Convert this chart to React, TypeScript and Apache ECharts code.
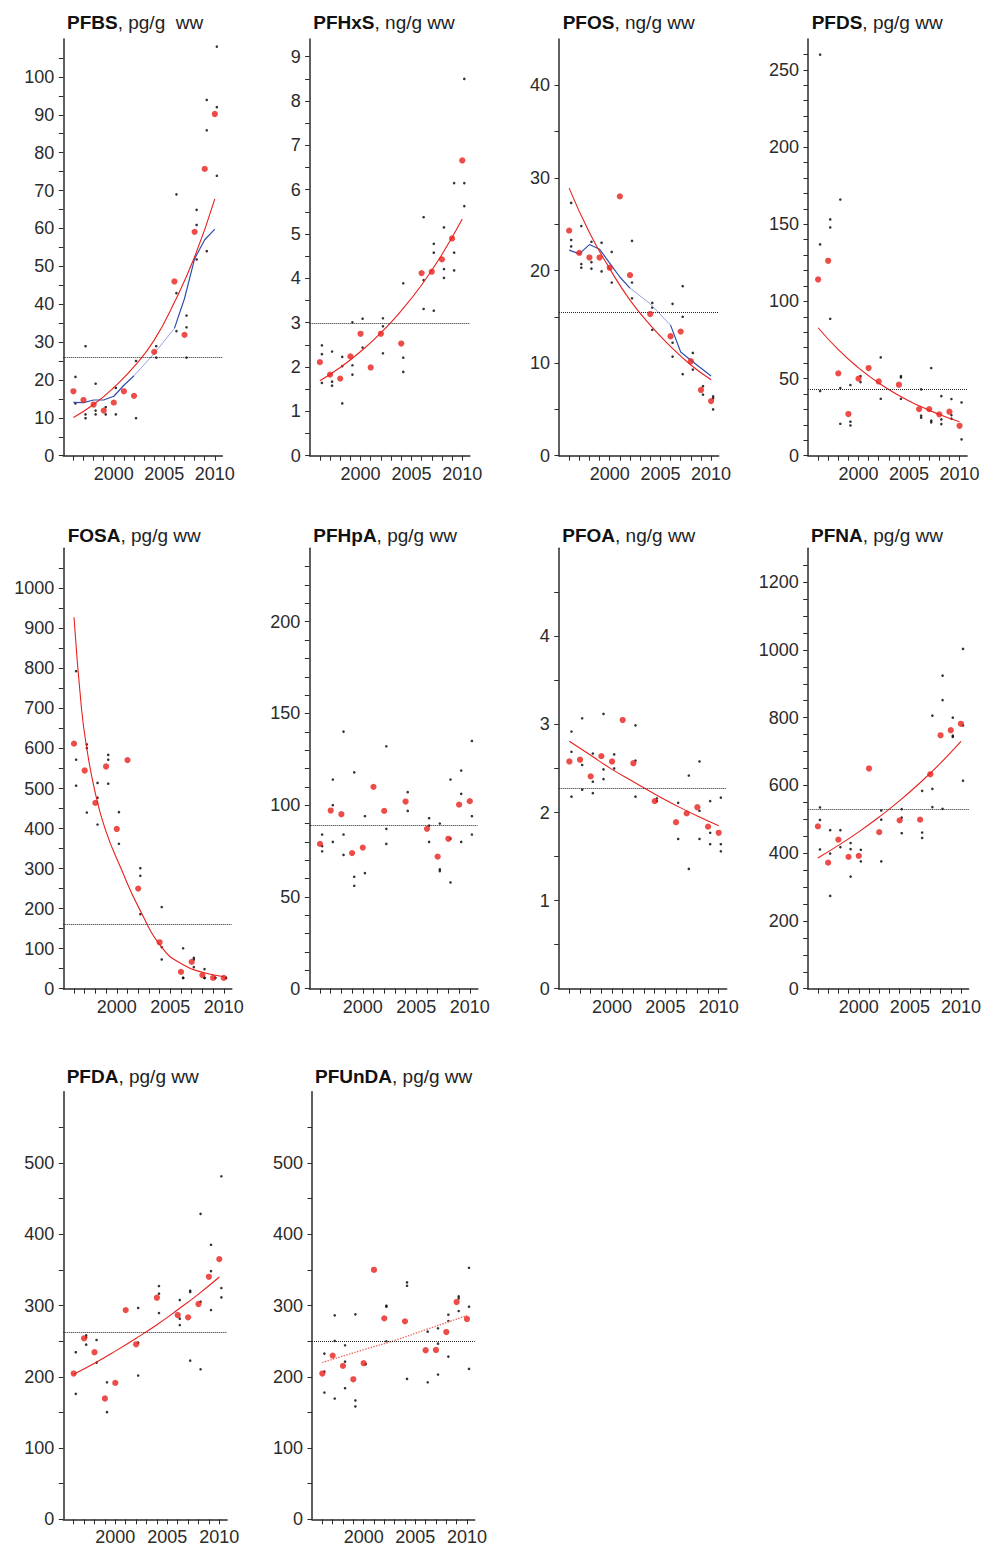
import React, { useEffect, useRef } from "react";
import * as echarts from "echarts";

// ---------- shared ----------
const YEARS = [1996, 1997, 1998, 1999, 2000, 2001, 2002, 2004, 2006, 2007, 2008, 2009, 2010];
const X_TICKS = [1996, 1997, 1998, 1999, 2000, 2001, 2002, 2003, 2004, 2005, 2006, 2007, 2008, 2009, 2010];
const X_LABELS = [2000, 2005, 2010];

// ---------- PFBS ----------
const pfbsMedian = [17.0, 14.7, 13.5, 11.9, 14.0, 17.0, 15.8, 27.4, 46.0, 31.9, 59.1, 75.7, 90.2];
const pfbsSamples = [[20.8, 13.8], [28.9, 10.9, 9.9], [19.0, 11.9, 10.9], [12.8, 10.9], [17.9, 10.9], [], [25.0, 9.9], [28.9, 25.9], [69.0, 42.9, 32.9], [37.0, 33.9, 25.9], [64.9, 60.9, 51.8], [93.9, 85.9, 54.0], [108, 92.0, 73.9]];
const pfbsTrend = [[1996, 10.1], [1998, 13.5], [2000, 18.0], [2002, 23.5], [2004, 30.5], [2006, 40.5], [2008, 52.5], [2010, 67.8]];
const pfbsSmooth = [[1996, 14.1], [1997, 14.0], [1998, 14.7], [1999, 14.7], [2000, 15.7], [2001, 18.6], [2002, 21.1], [2004, 27.0], [2006, 33.6], [2007, 41.5], [2008, 52.0], [2009, 57.0], [2010, 59.8]];
const pfbsMean = 26;
const pfbsYLabels = [0, 10, 20, 30, 40, 50, 60, 70, 80, 90, 100];

// ---------- PFHxS ----------
const pfhxsMedian = [2.11, 1.83, 1.74, 2.24, 2.75, 1.99, 2.75, 2.53, 4.12, 4.15, 4.43, 4.90, 6.66];
const pfhxsSamples = [[2.49, 2.29, 1.64], [2.35, 1.67, 1.58], [2.23, 2.02, 1.18], [3.01, 2.04, 1.83], [3.09, 2.44], [], [3.10, 2.92, 2.31], [3.89, 2.21, 1.89], [5.38, 3.96, 3.31], [4.78, 4.58, 3.27], [5.15, 4.21, 4.01], [6.15, 4.58, 4.18], [8.50, 6.15, 5.63]];
const pfhxsTrend = [[1996, 1.69], [1998, 1.99], [2000, 2.35], [2002, 2.77], [2004, 3.27], [2006, 3.85], [2008, 4.54], [2010, 5.34]];
const pfhxsMean = 2.98;
const pfhxsYLabels = [0, 1, 2, 3, 4, 5, 6, 7, 8, 9];

// ---------- PFOS ----------
const pfosMedian = [24.3, 21.9, 21.4, 21.4, 20.3, 28.0, 19.5, 15.3, 12.9, 13.4, 10.2, 7.1, 5.9];
const pfosSamples = [[27.3, 23.3, 22.6], [24.8, 20.7, 20.3], [23.1, 20.9, 20.2], [23.0, 19.9], [22.0, 18.7], [], [23.2, 18.7, 17.0], [16.5, 16.0, 13.6], [16.4, 12.2, 10.7], [18.3, 15.0, 8.8], [11.1, 9.3], [7.5, 6.6], [6.4, 6.2, 5.0]];
const pfosTrend = [[1996, 28.9], [1998, 24.1], [2000, 20.2], [2002, 16.8], [2004, 14.1], [2006, 11.8], [2008, 9.8], [2010, 8.2]];
const pfosSmooth = [[1996, 22.2], [1997, 21.8], [1998, 22.8], [1999, 22.3], [2000, 20.8], [2001, 19.3], [2002, 18.1], [2004, 16.4], [2006, 14.1], [2007, 11.2], [2008, 10.3], [2010, 8.6]];
const pfosMean = 15.5;
const pfosYLabels = [0, 10, 20, 30, 40];

// ---------- PFDS ----------
const pfdsMedian = [114.2, 126.3, 53.3, 27.0, 49.9, 56.8, 48.1, 46.0, 30.2, 30.2, 26.8, 28.5, 19.4];
const pfdsSamples = [[259.9, 136.9, 41.9], [153.1, 147.9, 88.7], [166.0, 43.8, 20.7], [45.8, 22.0, 19.6], [51.6, 47.7], [], [63.7, 36.9], [51.6, 50.7, 36.9], [43.0, 25.9, 24.6], [56.8, 22.7, 21.6], [38.6, 23.5, 20.5], [36.7, 26.3, 24.0], [34.5, 10.6]];
const pfdsTrend = [[1996, 82.9], [1998, 68.7], [2000, 56.9], [2002, 47.1], [2004, 39.0], [2006, 32.3], [2008, 26.7], [2010, 22.0]];
const pfdsMean = 43.2;
const pfdsYLabels = [0, 50, 100, 150, 200, 250];

// ---------- FOSA ----------
const fosaMedian = [612, 545, 464, 555, 399, 571, 250, 116, 42, 67, 34, 27, 27];
const fosaSamples = [[793, 572, 507], [610, 601, 440], [514, 477, 410], [584, 572, 512], [441, 362], [], [301, 282, 186], [204, 104, 73], [101, 27, 27], [77, 73, 54], [49, 27, 27], [27, 27], [27, 27]];
const fosaTrend = [[1996, 928], [1996.7, 700], [1997.2, 600], [1997.9, 500], [1998.9, 400], [2000.4, 300], [2002.1, 200], [2004.3, 100], [2006.2, 60], [2008, 41], [2010, 30]];
const fosaMean = 160;
const fosaYLabels = [0, 100, 200, 300, 400, 500, 600, 700, 800, 900, 1000];

// ---------- PFHpA ----------
const pfhpaMedian = [78.9, 97.1, 95.1, 73.9, 76.9, 110.0, 96.9, 102.0, 87.1, 72.0, 81.7, 100.3, 102.2];
const pfhpaSamples = [[84.0, 77.7, 74.9], [114.0, 100.0, 80.0], [140.1, 84.0, 72.9], [117.9, 61.0, 56.1], [94.0, 63.0], [], [132.1, 87.1, 78.9], [107.1, 96.9], [92.9, 88.9, 80.0], [90.0, 65.0, 64.1], [114.0, 81.8, 57.9], [118.9, 106.2, 80.0], [135.0, 94.0, 84.0]];
const pfhpaMean = 89.3;
const pfhpaYLabels = [0, 50, 100, 150, 200];

// ---------- PFOA ----------
const pfoaMedian = [2.58, 2.60, 2.41, 2.64, 2.58, 3.05, 2.56, 2.13, 1.89, 1.99, 2.06, 1.84, 1.77];
const pfoaSamples = [[2.92, 2.69, 2.18], [3.07, 2.54, 2.26], [2.67, 2.35, 2.22], [3.12, 2.49, 2.38], [2.66, 2.50], [], [2.99, 2.59, 2.18], [2.16, 2.13], [2.11, 1.70], [2.42, 1.36], [2.58, 2.02, 1.70], [2.13, 1.77, 1.64], [2.17, 1.64, 1.56]];
const pfoaTrend = [[1996, 2.81], [1998, 2.65], [2000, 2.49], [2002, 2.35], [2004, 2.21], [2006, 2.08], [2008, 1.96], [2010, 1.85]];
const pfoaMean = 2.28;
const pfoaYLabels = [0, 1, 2, 3, 4];

// ---------- PFNA ----------
const pfnaMedian = [479, 372, 440, 389, 392, 650, 462, 497, 499, 633, 748, 763, 782];
const pfnaSamples = [[535, 498, 411], [468, 399, 274], [468, 418], [430, 412, 331], [410, 376], [], [526, 499, 376], [530, 505, 459], [584, 461, 445], [806, 590, 536], [924, 852, 531], [800, 747, 743], [1003, 777, 614]];
const pfnaTrend = [[1996, 386], [1998, 423], [2000, 463], [2002, 507], [2004, 555], [2006, 608], [2008, 666], [2010, 730]];
const pfnaMean = 529;
const pfnaYLabels = [0, 200, 400, 600, 800, 1000, 1200];

// ---------- PFDA ----------
const pfdaMedian = [204.5, 254.0, 234.4, 169.5, 191.4, 293.6, 245.6, 310.9, 286.6, 283.4, 302.1, 340.3, 365.1];
const pfdaSamples = [[234.4, 176.0], [258.2, 255.4, 245.1], [251.6, 219.9], [192.3, 150.3], [], [], [296.5, 247.9, 201.7], [327.3, 316.5, 289.4], [307.7, 281.5, 272.6], [320.7, 318.9, 222.7], [428.6, 305.3, 210.5], [385.2, 348.3, 293.6], [481.3, 324.5, 311.4]];
const pfdaTrend = [[1996, 203.5], [1998, 219], [2000, 236], [2002, 254], [2004, 273], [2006, 294], [2008, 316], [2010, 340]];
const pfdaMean = 262;
const pfdaYLabels = [0, 100, 200, 300, 400, 500];

// ---------- PFUnDA ----------
const pfundaMedian = [204.5, 229.7, 215.2, 196.5, 219.0, 350.1, 282.0, 277.8, 237.2, 237.6, 262.8, 304.9, 281.0];
const pfundaSamples = [[232.5, 207.3, 177.9], [286.2, 250.2, 169.5], [244.2, 221.3, 183.9], [287.6, 166.7, 158.3], [217.6], [], [299.7, 298.3, 249.8], [332.4, 327.7, 197.0], [263.3, 192.3], [268.0, 246.5, 203.1], [287.1, 278.2, 228.3], [312.8, 310.0, 292.2], [352.9, 298.3, 211.0]];
const pfundaTrend = [[1996, 220], [2000, 238], [2003, 251], [2006, 266], [2010, 286]];
const pfundaMean = 250;
const pfundaYLabels = [0, 100, 200, 300, 400, 500];

// ---------- styling / layout ----------
const FONT = "'Liberation Sans', Arial, Helvetica, sans-serif";
const RED = "#e8201c";
const BLUE = "#2f4fb0";
const BLUE_LIGHT = "#8fa3dc";
const INK = "#2b2b2b";

type Panel = {
  name: string; unit: string;
  median: number[]; samples: number[][];
  trend?: number[][]; smooth?: number[][]; trendDotted?: boolean;
  mean: number; yLabels: number[]; yStep: number; yMax: number;
  rect: [number, number, number, number];
  title: [number, number];
};

const R1 = [39, 416.7];
const R2 = [548.3, 440.4];
const R3 = [1091.7, 427.6];

const PANELS: Panel[] = [
  { name: "PFBS", unit: "pg/g  ww", median: pfbsMedian, samples: pfbsSamples, trend: pfbsTrend, smooth: pfbsSmooth, mean: pfbsMean, yLabels: pfbsYLabels, yStep: 5, yMax: 110, rect: [63.3, R1[0], 159.1, R1[1]], title: [67, 11.5] },
  { name: "PFHxS", unit: "ng/g ww", median: pfhxsMedian, samples: pfhxsSamples, trend: pfhxsTrend, mean: pfhxsMean, yLabels: pfhxsYLabels, yStep: 0.5, yMax: 9.4, rect: [309.7, R1[0], 160.2, R1[1]], title: [313.3, 11.5] },
  { name: "PFOS", unit: "ng/g ww", median: pfosMedian, samples: pfosSamples, trend: pfosTrend, smooth: pfosSmooth, mean: pfosMean, yLabels: pfosYLabels, yStep: 5, yMax: 45, rect: [559, R1[0], 159.7, R1[1]], title: [562.7, 11.5] },
  { name: "PFDS", unit: "pg/g ww", median: pfdsMedian, samples: pfdsSamples, trend: pfdsTrend, mean: pfdsMean, yLabels: pfdsYLabels, yStep: 10, yMax: 270, rect: [808, R1[0], 159.1, R1[1]], title: [811.7, 11.5] },
  { name: "FOSA", unit: "pg/g ww", median: fosaMedian, samples: fosaSamples, trend: fosaTrend, mean: fosaMean, yLabels: fosaYLabels, yStep: 50, yMax: 1100, rect: [63.3, R2[0], 168.5, R2[1]], title: [67.7, 524] },
  { name: "PFHpA", unit: "pg/g ww", median: pfhpaMedian, samples: pfhpaSamples, mean: pfhpaMean, yLabels: pfhpaYLabels, yStep: 10, yMax: 240, rect: [309.3, R2[0], 168.5, R2[1]], title: [313.3, 524] },
  { name: "PFOA", unit: "ng/g ww", median: pfoaMedian, samples: pfoaSamples, trend: pfoaTrend, mean: pfoaMean, yLabels: pfoaYLabels, yStep: 0.5, yMax: 5, rect: [558.7, R2[0], 168, R2[1]], title: [562.3, 524] },
  { name: "PFNA", unit: "pg/g ww", median: pfnaMedian, samples: pfnaSamples, trend: pfnaTrend, mean: pfnaMean, yLabels: pfnaYLabels, yStep: 50, yMax: 1300, rect: [807.7, R2[0], 168, R2[1]], title: [811, 524] },
  { name: "PFDA", unit: "pg/g ww", median: pfdaMedian, samples: pfdaSamples, trend: pfdaTrend, mean: pfdaMean, yLabels: pfdaYLabels, yStep: 50, yMax: 600, rect: [63.3, R3[0], 163.8, R3[1]], title: [66.7, 1065] },
  { name: "PFUnDA", unit: "pg/g ww", median: pfundaMedian, samples: pfundaSamples, trend: pfundaTrend, trendDotted: true, mean: pfundaMean, yLabels: pfundaYLabels, yStep: 50, yMax: 600, rect: [312, R3[0], 162.7, R3[1]], title: [315, 1065] },
];

const X_MIN = 1995;
const X_MAX = 2010.75;
const SAMPLE_SHIFT = 0.2;
// the smoother is drawn lighter where it bridges the gap years
const LIGHT_FROM = 2002;
const LIGHT_TO = 2006;

function buildOption() {
  const grid: any[] = [];
  const xAxis: any[] = [];
  const yAxis: any[] = [];
  const series: any[] = [];
  const title: any[] = [];

  PANELS.forEach((p, i) => {
    const [left, top, width, height] = p.rect;
    grid.push({ left, top, width, height, containLabel: false });

    xAxis.push({
      type: "value", gridIndex: i, min: X_MIN, max: X_MAX, interval: 1,
      axisLine: { show: true, onZero: false, lineStyle: { color: INK, width: 1.5 } },
      axisTick: { show: true, length: 5, customValues: X_TICKS, lineStyle: { color: INK, width: 1 } },
      axisLabel: {
        customValues: X_LABELS, fontSize: 18, color: INK, fontFamily: FONT, margin: 9,
        formatter: (v: number) => (X_LABELS.indexOf(v) >= 0 ? String(v) : ""),
      },
      splitLine: { show: false },
    });

    const ticks: number[] = [];
    for (let k = 0; k * p.yStep < p.yMax - 1e-9; k++) ticks.push(Math.round(k * p.yStep * 1000) / 1000);
    yAxis.push({
      type: "value", gridIndex: i, min: 0, max: p.yMax, interval: p.yStep,
      axisLine: { show: true, onZero: false, lineStyle: { color: INK, width: 1.5 } },
      axisTick: { show: true, length: 4.5, customValues: ticks, lineStyle: { color: INK, width: 1 } },
      axisLabel: {
        customValues: p.yLabels, fontSize: 18, color: INK, fontFamily: FONT, margin: 9,
        formatter: (v: number) => (p.yLabels.some((l) => Math.abs(l - v) < 1e-6) ? String(v) : ""),
      },
      splitLine: { show: false },
    });

    title.push({
      text: `{b|${p.name}}{n|, ${p.unit}}`,
      left: p.title[0], top: p.title[1], padding: 0,
      textStyle: {
        rich: {
          b: { fontWeight: "bold", fontSize: 19, fontFamily: FONT, color: "#111", lineHeight: 22 },
          n: { fontWeight: "normal", fontSize: 19, fontFamily: FONT, color: "#222", lineHeight: 22 },
        },
      },
    });

    const samplePts: number[][] = [];
    p.samples.forEach((vals, j) => vals.forEach((v) => samplePts.push([YEARS[j] + SAMPLE_SHIFT, v])));
    series.push({
      type: "scatter", xAxisIndex: i, yAxisIndex: i, data: samplePts,
      symbol: "circle", symbolSize: 2.6, itemStyle: { color: "#000" }, z: 3, silent: true,
      markLine: {
        silent: true, symbol: ["none", "none"], label: { show: false },
        lineStyle: { type: "dotted", color: "#222", width: 1 },
        data: [{ yAxis: p.mean }],
      },
    });

    if (p.smooth) {
      const s = p.smooth;
      const before = s.filter((d) => d[0] <= LIGHT_FROM);
      const mid = s.filter((d) => d[0] >= LIGHT_FROM && d[0] <= LIGHT_TO);
      const after = s.filter((d) => d[0] >= LIGHT_TO);
      const mk = (data: number[][], color: string, w: number) => ({
        type: "line", xAxisIndex: i, yAxisIndex: i, data, showSymbol: false,
        smooth: false, lineStyle: { color, width: w }, z: 4, silent: true,
      });
      series.push(mk(before, BLUE, 1.2), mk(mid, BLUE_LIGHT, 1), mk(after, BLUE, 1.2));
    }
    if (p.trend) {
      series.push({
        type: "line", xAxisIndex: i, yAxisIndex: i, data: p.trend, showSymbol: false,
        smooth: true,
        lineStyle: {
          color: p.trendDotted ? "#ee6b5f" : RED,
          width: p.trendDotted ? 1.4 : 1.1,
          type: p.trendDotted ? "dotted" : "solid",
        },
        z: 4, silent: true,
      });
    }
    series.push({
      type: "scatter", xAxisIndex: i, yAxisIndex: i,
      data: p.median.map((v, j) => [YEARS[j], v]),
      symbol: "circle", symbolSize: 6.2, itemStyle: { color: RED }, z: 5, silent: true,
    });
  });

  return { animation: false, backgroundColor: "#ffffff", title, grid, xAxis, yAxis, series };
}

export default function App() {
  const ref = useRef<HTMLDivElement>(null);
  useEffect(() => {
    if (!ref.current) return;
    const chart = echarts.init(ref.current, null, { renderer: "svg" });
    chart.setOption(buildOption() as any);
    return () => chart.dispose();
  }, []);
  return (
    <div
      ref={ref}
      style={{ position: "absolute", left: 0, top: 0, width: 984, height: 1547, background: "#fff" }}
    />
  );
}
